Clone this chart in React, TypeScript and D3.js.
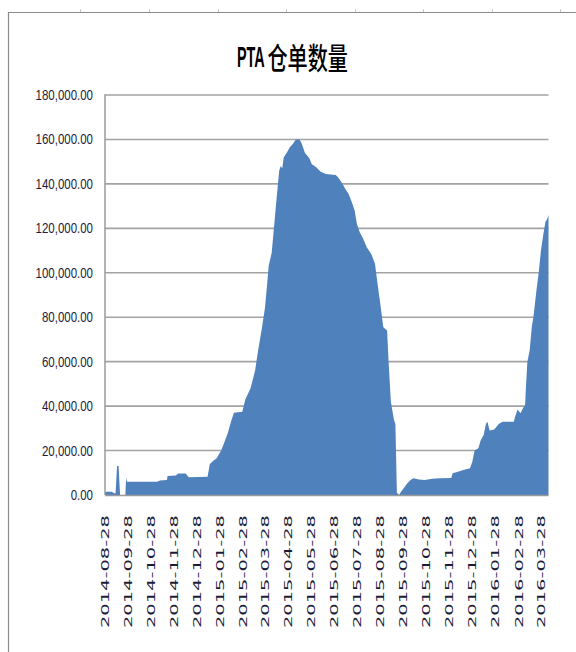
import React from 'react';
import * as d3 from 'd3';

const TITLE_LATIN = 'PTA';
const TITLE_CJK = '仓单数量';

const yTickValues = [0, 20000, 40000, 60000, 80000, 100000, 120000, 140000, 160000, 180000];

const xTickLabels = [
  '2014-08-28', '2014-09-28', '2014-10-28', '2014-11-28', '2014-12-28',
  '2015-01-28', '2015-02-28', '2015-03-28', '2015-04-28', '2015-05-28',
  '2015-06-28', '2015-07-28', '2015-08-28', '2015-09-28', '2015-10-28',
  '2015-11-28', '2015-12-28', '2016-01-28', '2016-02-28', '2016-03-28',
];

const dates = [
  '2014-08-28', '2014-09-06', '2014-09-09', '2014-09-11', '2014-09-13', '2014-09-15', '2014-09-17',
  '2014-09-24', '2014-09-25', '2014-09-26', '2014-11-05', '2014-11-09', '2014-11-18', '2014-11-19',
  '2014-11-30', '2014-12-03', '2014-12-13', '2014-12-17', '2015-01-11', '2015-01-14', '2015-01-19',
  '2015-01-23', '2015-01-29', '2015-02-02', '2015-02-07', '2015-02-11', '2015-02-15', '2015-02-26',
  '2015-03-02', '2015-03-09', '2015-03-15', '2015-03-19', '2015-03-24', '2015-03-28', '2015-03-31',
  '2015-04-02', '2015-04-06', '2015-04-10', '2015-04-14', '2015-04-16', '2015-04-18', '2015-04-20',
  '2015-04-22', '2015-04-26', '2015-04-30', '2015-05-04', '2015-05-08', '2015-05-13', '2015-05-16',
  '2015-05-20', '2015-05-26', '2015-05-29', '2015-06-04', '2015-06-10', '2015-06-17', '2015-06-30',
  '2015-07-04', '2015-07-09', '2015-07-13', '2015-07-17', '2015-07-21', '2015-07-25', '2015-07-28',
  '2015-08-01', '2015-08-05', '2015-08-10', '2015-08-16', '2015-08-21', '2015-08-24', '2015-08-28',
  '2015-09-01', '2015-09-06', '2015-09-08', '2015-09-11', '2015-09-15', '2015-09-17', '2015-09-19',
  '2015-09-22', '2015-09-24', '2015-09-28', '2015-10-02', '2015-10-07', '2015-10-11', '2015-10-18',
  '2015-10-26', '2015-11-05', '2015-11-15', '2015-11-30', '2015-12-02', '2015-12-09', '2015-12-16',
  '2015-12-25', '2015-12-28', '2015-12-31', '2016-01-05', '2016-01-08', '2016-01-12', '2016-01-15',
  '2016-01-17', '2016-01-20', '2016-01-26', '2016-02-01', '2016-02-06', '2016-02-21', '2016-02-23',
  '2016-02-26', '2016-03-01', '2016-03-04', '2016-03-07', '2016-03-08', '2016-03-10', '2016-03-13',
  '2016-03-16', '2016-03-18', '2016-03-22', '2016-03-25', '2016-03-28', '2016-03-31', '2016-04-03',
  '2016-04-05', '2016-04-07',
];

const values = [
  1500, 1500, 800, 800, 13000, 13000, 0,
  0, 8000, 6000, 6000, 6500, 6800, 8500,
  8800, 9700, 9700, 8000, 8200, 14000, 15500,
  16500, 20000, 23500, 28000, 33000, 37000, 37500,
  43000, 48000, 56000, 65000, 75000, 84000, 95000,
  103000, 109000, 124000, 139000, 146000, 148000, 147000,
  152000, 154000, 156500, 158000, 160000, 160000, 158000,
  154000, 151500, 149000, 147500, 145500, 144500, 144000,
  142500, 140000, 137500, 135500, 132000, 128000, 122000,
  118000, 115500, 111500, 108500, 104000, 96000, 86000,
  75500, 74000, 60000, 42000, 34000, 32000, 1000,
  0, 1200, 3000, 5000, 6800, 7500, 7000,
  6800, 7300, 7500, 7600, 9800, 10500, 11300,
  12000, 15000, 20000, 21000, 24500, 27000, 32000,
  33000, 29000, 29500, 32000, 33000, 33000, 35500,
  38500, 36800, 39000, 40500, 48000, 60000, 65000,
  76000, 80000, 92000, 100000, 110000, 117000, 123000,
  124000, 126000,
];

const parse = d3.timeParse('%Y-%m-%d');

export default function App() {
  const W = 576;
  const H = 652;
  const left = 105;
  const right = 548.5;
  const top = 95;
  const bottom = 495;

  const x = d3.scaleTime()
    .domain([parse('2014-08-28') as Date, parse('2016-04-07') as Date])
    .range([left, right]);
  const y = d3.scaleLinear().domain([0, 180000]).range([bottom, top]);

  const data: [Date, number][] = dates.map((d, i) => [parse(d) as Date, values[i]]);
  const area = d3.area<[Date, number]>()
    .x(d => x(d[0]))
    .y0(bottom)
    .y1(d => y(d[1]))
    .curve(d3.curveLinear);

  const fmt = d3.format(',.2f');
  const sheetTicks = [80, 149, 218, 286, 355, 423, 492, 560];

  return (
    <svg width={W} height={H} style={{ position: 'absolute', left: 0, top: 0, background: '#fff' }}>
      <rect x={0} y={0} width={W} height={H} fill="#fff" />
      {/* sheet frame */}
      {sheetTicks.map(t => (
        <line key={t} x1={t + 0.5} x2={t + 0.5} y1={9} y2={12} stroke="#c8c8c8" strokeWidth={1} />
      ))}
      <line x1={8} x2={W} y1={12.5} y2={12.5} stroke="#8c8c8c" strokeWidth={1.2} />
      <line x1={8.5} x2={8.5} y1={12} y2={H} stroke="#8c8c8c" strokeWidth={1.2} />

      {/* title */}
      <text
        transform="translate(237, 67) scale(0.48, 1)"
        fontFamily="'Liberation Sans', Arial, sans-serif"
        fontWeight="bold"
        fontSize={30}
        fill="#000"
      >
        {TITLE_LATIN}
      </text>
      <text
        transform="translate(267.5, 69) scale(0.67, 1)"
        fontFamily="'Noto Sans CJK SC', sans-serif"
        fontWeight={500}
        fontSize={30}
        fill="#000"
      >
        {TITLE_CJK}
      </text>

      {/* gridlines */}
      {yTickValues.filter(v => v > 0).map(v => (
        <line key={v} x1={left} x2={right} y1={y(v)} y2={y(v)} stroke="#a3a3a3" strokeWidth={1.6} />
      ))}

      {/* area */}
      <path d={area(data) || ''} fill="#4f81bd" />

      {/* axes */}
      <line x1={left} x2={left} y1={top - 0.8} y2={bottom} stroke="#9a9a9a" strokeWidth={1.5} />
      <line x1={left} x2={right} y1={bottom + 0.5} y2={bottom + 0.5} stroke="#9a9a9a" strokeWidth={1.5} />

      {/* y labels */}
      {yTickValues.map(v => (
        <text
          key={v}
          transform={`translate(93, ${y(v) + 5}) scale(0.82, 1)`}
          textAnchor="end"
          fontFamily="'Liberation Sans', Arial, sans-serif"
          fontSize={14}
          fill="#1c1c38"
        >
          {fmt(v)}
        </text>
      ))}

      {/* x labels */}
      {xTickLabels.map(l => {
        const px = x(parse(l) as Date);
        return (
          <text
            key={l}
            transform={`translate(${px + 3.6}, 628) rotate(-90)`}
            textLength={113}
            lengthAdjust="spacingAndGlyphs"
            fontFamily="'DejaVu Sans', sans-serif"
            fontSize={10}
            fill="#1c1c38"
          >
            {l}
          </text>
        );
      })}
    </svg>
  );
}
